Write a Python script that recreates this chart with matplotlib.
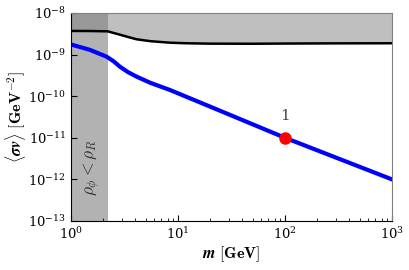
import numpy as np
import matplotlib
matplotlib.use('Agg')
import matplotlib.pyplot as plt

plt.rcParams['mathtext.fontset'] = 'cm'
plt.rcParams['font.family'] = 'serif'
plt.rcParams['font.serif'] = ['DejaVu Serif']

# upper bound curve (black)
m_bound = [1.0, 1.5, 2.2, 2.87, 3.5, 4.1, 5.5, 8.4, 12, 20, 50, 100, 300, 1000]
sv_bound = [3.7e-9, 3.68e-9, 3.62e-9, 3.0e-9, 2.6e-9, 2.33e-9, 2.1e-9, 1.93e-9, 1.87e-9, 1.83e-9, 1.82e-9, 1.84e-9, 1.86e-9, 1.87e-9]

# required cross section (blue)
m_req = [1.0, 1.5, 2.15, 2.5, 2.87, 3.4, 4.1, 5.5, 8.4, 20, 100, 1000]
sv_req = [1.75e-9, 1.3e-9, 8.9e-10, 6.9e-10, 5.1e-10, 3.8e-10, 2.95e-10, 2.1e-10, 1.41e-10, 5.6e-11, 1e-11, 1e-12]

# benchmark point
m_pt = [100]
sv_pt = [1e-11]
pt_label = ['1']

m_rho = 2.2  # rho_phi < rho_R below this

fig = plt.figure(figsize=(4.09, 2.70), dpi=100)
ax = fig.add_axes([0.1736, 0.1815, 0.7848, 0.7705])

ax.fill_between(m_bound, sv_bound, 1e-8, color='grey', alpha=0.5, lw=0)
ax.axvspan(1, m_rho, color='grey', alpha=0.6, lw=0)
ax.plot(m_bound, sv_bound, color='black', lw=1.8)
ax.plot(m_req, sv_req, color='blue', lw=3)
ax.plot(m_pt, sv_pt, 'o', color='red', ms=8, zorder=5)
for x, y, s in zip(m_pt, sv_pt, pt_label):
    ax.text(x, y * 2.3, s, color='#444444', fontsize=11, ha='center', va='bottom')

ax.text(1.6, 1.9e-12, r'$\rho_\phi < \rho_R$', rotation=90, color='#333333',
        fontsize=12.5, ha='center', va='center')

ax.set_xscale('log')
ax.set_yscale('log')
ax.set_xlim(1, 1000)
ax.set_ylim(1e-13, 1e-8)
ax.set_yticks([1e-13, 1e-12, 1e-11, 1e-10, 1e-9, 1e-8])
ax.yaxis.set_minor_locator(matplotlib.ticker.NullLocator())
ax.tick_params(which='both', direction='in', labelsize=9.5)
ax.tick_params(which='major', length=4)
ax.tick_params(which='minor', length=2)
for s in ['top', 'right']:
    ax.spines[s].set_color('grey')

ax.set_xlabel(r'$\boldsymbol{m}\ [\mathbf{GeV}]$', fontsize=11.5, labelpad=2)
ax.set_ylabel(r'$\langle \boldsymbol{\sigma v} \rangle\ [\mathbf{GeV}^{\mathbf{-2}}]$', fontsize=11.5)
ax.yaxis.set_label_coords(-0.135, 0.5)

fig.savefig('out.png', dpi=100)
